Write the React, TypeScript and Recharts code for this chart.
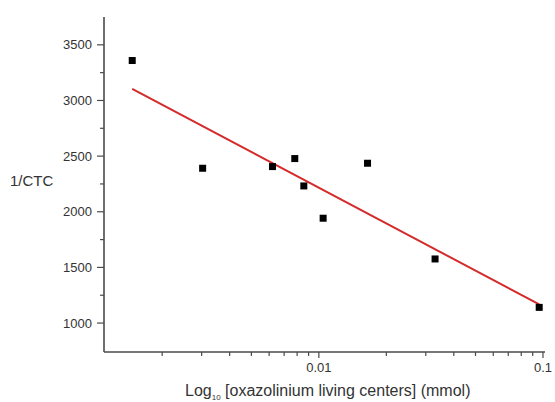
import { ScatterChart, Scatter, XAxis, YAxis } from 'recharts';

// measured points: x = oxazolinium living centers (mmol), y = 1/CTC
const xValues = [0.00147, 0.00303, 0.00621, 0.00781, 0.00857, 0.01045, 0.01649, 0.033, 0.0962];
const yValues = [3359, 2391, 2406, 2478, 2232, 1942, 2436, 1576, 1141];

// linear fit endpoints (in log x)
const fitX = [0.00147, 0.0962];
const fitY = [3104, 1168];

const xTicks = [0.002, 0.003, 0.004, 0.005, 0.006, 0.007, 0.008, 0.009, 0.01, 0.02, 0.03, 0.04, 0.05, 0.06, 0.07, 0.08, 0.09, 0.1];
const xMajor = [0.01, 0.1];
const yTicks = [1000, 1250, 1500, 1750, 2000, 2250, 2500, 2750, 3000, 3250, 3500];
const yMajor = [1000, 1500, 2000, 2500, 3000, 3500];

const points = xValues.map((x, i) => ({ x, y: yValues[i] }));
const fitLine = fitX.map((x, i) => ({ x, y: fitY[i] }));

const AXIS = '#4a4a4a';
const TEXT = '#333';
const FONT = 'Arial, "Liberation Sans", Helvetica, sans-serif';

const XTick = (props: any) => {
    const { x, y, payload } = props;
    const major = xMajor.includes(payload.value);
    return (
        <g>
            <line x1={x} x2={x} y1={y} y2={y + (major ? 6 : 4)} stroke={AXIS} strokeWidth={1.2} />
            {major && (
                <text x={x} y={y + 20} textAnchor="middle" fontSize={13} fill={TEXT} fontFamily={FONT}>
                    {payload.value}
                </text>
            )}
        </g>
    );
};

const YTick = (props: any) => {
    const { x, y, payload } = props;
    const major = yMajor.includes(payload.value);
    return (
        <g>
            <line x1={x} x2={x - (major ? 7 : 4)} y1={y} y2={y} stroke={AXIS} strokeWidth={1.2} />
            {major && (
                <text x={x - 12} y={y} dy="0.35em" textAnchor="end" fontSize={13} fill={TEXT} fontFamily={FONT}>
                    {payload.value}
                </text>
            )}
        </g>
    );
};

const Square = (props: any) => {
    const { cx, cy } = props;
    return <rect x={cx - 3.5} y={cy - 3.5} width={7} height={7} fill="#000" />;
};

const Empty = () => <g />;

export default function App() {
    return (
        <div style={{ position: 'absolute', left: 0, top: 0, width: 555, height: 402, background: '#fff', fontFamily: FONT }}>
            <ScatterChart width={555} height={402} margin={{ top: 17, right: 10, left: 44, bottom: 20 }}>
                <XAxis
                    type="number"
                    dataKey="x"
                    scale="log"
                    domain={[0.0011, 0.1021]}
                    allowDataOverflow
                    ticks={xTicks}
                    interval={0}
                    tick={<XTick />}
                    tickLine={false}
                    tickSize={0}
                    tickMargin={0}
                    height={30}
                    axisLine={{ stroke: AXIS, strokeWidth: 1.6 }}
                />
                <YAxis
                    type="number"
                    dataKey="y"
                    domain={[740, 3750]}
                    allowDataOverflow
                    ticks={yTicks}
                    interval={0}
                    tick={<YTick />}
                    tickLine={false}
                    tickSize={0}
                    tickMargin={0}
                    width={60}
                    axisLine={{ stroke: AXIS, strokeWidth: 1.6 }}
                />
                <Scatter
                    data={fitLine}
                    line={{ stroke: '#d42a2a', strokeWidth: 2 }}
                    shape={<Empty />}
                    isAnimationActive={false}
                />
                <Scatter data={points} shape={<Square />} isAnimationActive={false} />
            </ScatterChart>
            <div style={{ position: 'absolute', left: 10, top: 172, fontSize: 15, color: TEXT }}>1/CTC</div>
            <div style={{ position: 'absolute', left: 185, top: 382, fontSize: 16, lineHeight: '18px', color: TEXT, whiteSpace: 'nowrap' }}>
                Log<sub style={{ fontSize: 8, lineHeight: 0 }}>10</sub> [oxazolinium living centers] (mmol)
            </div>
        </div>
    );
}
